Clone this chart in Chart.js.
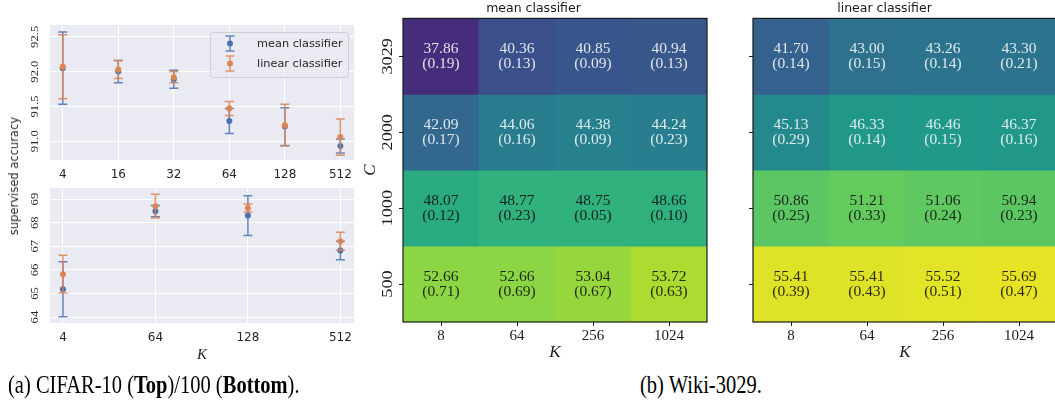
<!DOCTYPE html>
<html>
<head>
<meta charset="utf-8">
<script src="https://cdn.jsdelivr.net/npm/chart.js@4.4.1/dist/chart.umd.min.js"></script>
<style>
  body { margin: 0; width: 1055px; height: 402px; overflow: hidden; background: #fff; position: relative; }
  canvas { position: absolute; }
  #ylab { position: absolute; left: 7px; top: 117px; writing-mode: vertical-rl; transform: rotate(180deg);
          font: 11.5px "DejaVu Sans", sans-serif; color: #262626; white-space: nowrap; line-height: 14px; }
  .cap { position: absolute; top: 372px; font-family: "Liberation Serif", serif; font-size: 20.5px; color: #000;
         white-space: nowrap; transform: scaleY(1.18); transform-origin: left top; }
</style>
</head>
<body>
<canvas id="top" width="360" height="185" style="left:0;top:0"></canvas>
<canvas id="bottom" width="360" height="190" style="left:0;top:180px"></canvas>
<canvas id="heatMean" width="355" height="365" style="left:360px;top:0"></canvas>
<canvas id="heatLinear" width="350" height="365" style="left:712px;top:0"></canvas>
<div id="ylab">supervised accuracy</div>
<div class="cap" style="left:8px">(a) CIFAR-10 (<b>Top</b>)/100 (<b>Bottom</b>).</div>
<div class="cap" style="left:640px">(b) Wiki-3029.</div>

<script>
// CIFAR-10 (top)
const kTop = ['4', '16', '32', '64', '128', '512'];
const meanTop = [92.05, 92.00, 91.89, 91.29, 91.21, 90.93];
const meanTopStd = [0.52, 0.16, 0.13, 0.18, 0.27, 0.10];
const linearTop = [92.07, 92.03, 91.92, 91.47, 91.23, 91.06];
const linearTopStd = [0.46, 0.13, 0.08, 0.10, 0.30, 0.26];
const yTicksTop = [91.0, 91.5, 92.0, 92.5];

// CIFAR-100 (bottom)
const kBottom = ['4', '64', '128', '512'];
const meanBottom = [65.18, 68.49, 68.30, 66.82];
const meanBottomStd = [1.16, 0.24, 0.84, 0.39];
const linearBottom = [65.82, 68.70, 68.62, 67.21];
const linearBottomStd = [0.80, 0.50, 0.17, 0.38];
const yTicksBottom = [64, 65, 66, 67, 68, 69];

// Wiki-3029 heatmaps, rows follow heatC
const heatK = ['8', '64', '256', '1024'];
const heatC = ['3029', '2000', '1000', '500'];
const meanAcc = [[37.86, 40.36, 40.85, 40.94], [42.09, 44.06, 44.38, 44.24], [48.07, 48.77, 48.75, 48.66], [52.66, 52.66, 53.04, 53.72]];
const meanSd = [[0.19, 0.13, 0.09, 0.13], [0.17, 0.16, 0.09, 0.23], [0.12, 0.23, 0.05, 0.10], [0.71, 0.69, 0.67, 0.63]];
const linAcc = [[41.70, 43.00, 43.26, 43.30], [45.13, 46.33, 46.46, 46.37], [50.86, 51.21, 51.06, 50.94], [55.41, 55.41, 55.52, 55.69]];
const linSd = [[0.14, 0.15, 0.14, 0.21], [0.29, 0.14, 0.15, 0.16], [0.25, 0.33, 0.24, 0.23], [0.39, 0.43, 0.51, 0.47]];

const BLUE = '#4c72b0', ORANGE = '#dd8452';
const VMIN = 35.1, VMAX = 56.4;
const VIRIDIS = ['#440154', '#482878', '#3e4989', '#31688e', '#26828e', '#1f9e89', '#35b779', '#6ece58', '#b5de2b', '#fde725'];

function norm(v) { return Math.min(1, Math.max(0, (v - VMIN) / (VMAX - VMIN))); }

function viridis(t) {
  const f = t * (VIRIDIS.length - 1);
  const i = Math.min(VIRIDIS.length - 2, Math.floor(f));
  const u = f - i;
  const a = VIRIDIS[i], b = VIRIDIS[i + 1];
  const ch = k => {
    const x = parseInt(a.substr(1 + 2 * k, 2), 16), y = parseInt(b.substr(1 + 2 * k, 2), 16);
    return Math.round(x + (y - x) * u);
  };
  return `rgb(${ch(0)},${ch(1)},${ch(2)})`;
}

// rotated y tick labels (matplotlib style, reading upward)
const rotatedYTicks = {
  id: 'rotatedYTicks',
  afterDraw(chart, args, o) {
    if (!o.show) return;
    const ys = chart.scales.y, ctx = chart.ctx;
    ctx.save();
    ctx.font = o.font;
    ctx.fillStyle = o.color;
    ctx.textAlign = 'center';
    ctx.textBaseline = 'middle';
    ys.ticks.forEach((t, i) => {
      ctx.save();
      ctx.translate(o.x, ys.getPixelForValue(t.value));
      ctx.rotate(-Math.PI / 2);
      ctx.scale(o.stretch || 1, 1);
      ctx.fillText(o.labels[i], 0, 0);
      ctx.restore();
    });
    ctx.restore();
  }
};

const plotBg = {
  id: 'plotBg',
  beforeDraw(chart, args, o) {
    if (!o.color) return;
    const a = chart.chartArea, ctx = chart.ctx;
    ctx.save();
    ctx.fillStyle = o.color;
    ctx.fillRect(a.left, a.top, a.right - a.left, a.bottom - a.top);
    ctx.restore();
  }
};

const errorBars = {
  id: 'errorBars',
  beforeDatasetDraw(chart, args) {
    const ds = chart.data.datasets[args.index];
    if (!ds.sd) return;
    const xs = chart.scales.x, ys = chart.scales.y, ctx = chart.ctx;
    ctx.save();
    ctx.strokeStyle = ds.borderColor;
    ctx.globalAlpha = 0.85;
    ctx.lineWidth = 1.5;
    ds.data.forEach((p, i) => {
      const px = xs.getPixelForValue(p.x);
      const top = ys.getPixelForValue(p.y + ds.sd[i]);
      const bot = ys.getPixelForValue(p.y - ds.sd[i]);
      ctx.beginPath();
      ctx.moveTo(px, top); ctx.lineTo(px, bot);
      ctx.moveTo(px - 4.5, top); ctx.lineTo(px + 4.5, top);
      ctx.moveTo(px - 4.5, bot); ctx.lineTo(px + 4.5, bot);
      ctx.stroke();
    });
    ctx.restore();
  }
};

const boxLegend = {
  id: 'boxLegend',
  afterDraw(chart, args, o) {
    if (!o.items) return;
    const ctx = chart.ctx;
    ctx.save();
    ctx.fillStyle = 'rgba(234,234,242,0.8)';
    ctx.strokeStyle = '#cfcfd6';
    ctx.lineWidth = 1;
    ctx.beginPath();
    ctx.roundRect(210.5, 32.5, 138, 45, 3);
    ctx.fill();
    ctx.stroke();
    o.items.forEach((it, i) => {
      const cy = 43.5 + i * 20, gx = 230;
      ctx.strokeStyle = it.color;
      ctx.globalAlpha = 0.85;
      ctx.lineWidth = 1.5;
      ctx.beginPath();
      ctx.moveTo(gx, cy - 7.5); ctx.lineTo(gx, cy + 7.5);
      ctx.moveTo(gx - 4.5, cy - 7.5); ctx.lineTo(gx + 4.5, cy - 7.5);
      ctx.moveTo(gx - 4.5, cy + 7.5); ctx.lineTo(gx + 4.5, cy + 7.5);
      ctx.stroke();
      ctx.globalAlpha = 1;
      ctx.fillStyle = it.color;
      ctx.beginPath();
      ctx.arc(gx, cy, 3, 0, Math.PI * 2);
      ctx.fill();
      ctx.fillStyle = '#262626';
      ctx.font = '11.3px "DejaVu Sans"';
      ctx.textBaseline = 'middle';
      ctx.fillText(it.text, 257, cy + 1);
    });
    ctx.restore();
  }
};

function errorChart(id, cats, ticks, fmt, range, series, pad, xTitle, legend) {
  const datasets = series.map(s => ({
    label: s.label,
    data: s.mean.map((v, i) => ({ x: i, y: v })),
    sd: s.sd,
    backgroundColor: s.color,
    borderColor: s.color,
    pointRadius: 3,
    pointBorderWidth: 0,
    showLine: false
  }));
  return new Chart(document.getElementById(id), {
    type: 'scatter',
    data: { datasets },
    options: {
      animation: false,
      responsive: false,
      layout: { padding: pad },
      plugins: {
        legend: { display: false },
        tooltip: { enabled: false },
        plotBg: { color: '#eaeaf2' },
        rotatedYTicks: { show: true, x: 35, labels: ticks.map(fmt), font: '11px "Liberation Serif"', color: '#262626', stretch: 1.15 },
        boxLegend: legend
      },
      scales: {
        x: {
          type: 'linear',
          min: range[0], max: range[1],
          afterBuildTicks: ax => { ax.ticks = cats.map((_, i) => ({ value: i })); },
          afterFit: ax => { ax.height = pad.xh; },
          ticks: { callback: v => cats[v], padding: 8, color: '#262626', font: { family: 'DejaVu Sans', size: 12 } },
          grid: { color: '#ffffff', lineWidth: 1, drawTicks: false },
          border: { display: false },
          title: xTitle
        },
        y: {
          min: range[2], max: range[3],
          afterBuildTicks: ax => { ax.ticks = ticks.map(v => ({ value: v })); },
          afterFit: ax => { ax.width = 50; },
          ticks: { display: false },
          grid: { color: '#ffffff', lineWidth: 1, drawTicks: false },
          border: { display: false }
        }
      }
    },
    plugins: [plotBg, errorBars, rotatedYTicks, boxLegend]
  });
}

errorChart('top', kTop, yTicksTop, v => v.toFixed(1), [-0.23, 5.25, 90.73, 92.67],
  [
    { label: 'linear classifier', mean: linearTop, sd: linearTopStd, color: ORANGE },
    { label: 'mean classifier', mean: meanTop, sd: meanTopStd, color: BLUE }
  ],
  { top: 25, right: 4, left: 0, bottom: 0, xh: 25 },
  { display: false },
  { items: [{ text: 'mean classifier', color: BLUE }, { text: 'linear classifier', color: ORANGE }] });

errorChart('bottom', kBottom, yTicksBottom, v => String(v), [-0.14, 3.15, 63.75, 69.47],
  [
    { label: 'linear classifier', mean: linearBottom, sd: linearBottomStd, color: ORANGE },
    { label: 'mean classifier', mean: meanBottom, sd: meanBottomStd, color: BLUE }
  ],
  { top: 8, right: 4, left: 0, bottom: 0, xh: 47 },
  { display: true, text: 'K', color: '#262626', font: { family: 'Liberation Serif', style: 'italic', size: 15 }, padding: { top: 0, bottom: 6 } },
  {});

const cellText = {
  id: 'cellText',
  afterDatasetsDraw(chart, args, o) {
    const ctx = chart.ctx;
    ctx.save();
    ctx.font = '15.5px "Liberation Serif"';
    ctx.textAlign = 'center';
    ctx.textBaseline = 'middle';
    chart.data.datasets.forEach((ds, r) => {
      chart.getDatasetMeta(r).data.forEach((bar, j) => {
        const cy = (bar.y + bar.base) / 2;
        ctx.fillStyle = norm(o.acc[r][j]) > 0.57 ? 'rgba(15,15,15,0.88)' : 'rgba(255,255,255,0.85)';
        ctx.fillText(o.acc[r][j].toFixed(2), bar.x, cy - 7.5);
        ctx.fillText('(' + o.sd[r][j].toFixed(2) + ')', bar.x, cy + 7.5);
      });
    });
    const a = chart.chartArea;
    ctx.strokeStyle = '#1a1a1a';
    ctx.lineWidth = 1.2;
    ctx.strokeRect(a.left, a.top, a.right - a.left, a.bottom - a.top);
    ctx.restore();
  }
};

function heatmap(id, title, acc, sd, yw, showY, pad) {
  const datasets = heatC.map((c, r) => ({
    label: c,
    data: heatK.map(() => [heatC.length - 1 - r, heatC.length - r]),
    backgroundColor: acc[r].map(v => viridis(norm(v))),
    grouped: false,
    barPercentage: 1,
    categoryPercentage: 1,
    borderWidth: 0
  }));
  return new Chart(document.getElementById(id), {
    type: 'bar',
    data: { labels: heatK, datasets },
    options: {
      animation: false,
      responsive: false,
      layout: { padding: pad },
      plugins: {
        legend: { display: false },
        tooltip: { enabled: false },
        title: { display: true, text: title, color: '#1a1a1a', font: { family: 'DejaVu Sans', size: 12.5, weight: 'normal' }, padding: { top: 1, bottom: 2.4 } },
        cellText: { acc, sd },
        rotatedYTicks: { show: showY, x: 28, labels: heatC, font: '14px "Liberation Serif"', color: '#1a1a1a', stretch: 1.3 }
      },
      scales: {
        x: {
          offset: true,
          afterFit: ax => { ax.height = 43; },
          ticks: { padding: 1, color: '#1a1a1a', font: { family: 'Liberation Serif', size: 15 } },
          grid: { display: true, drawOnChartArea: false, drawTicks: true, tickLength: 4, color: '#1a1a1a', offset: false },
          border: { display: false },
          title: { display: true, text: 'K', color: '#1a1a1a', font: { family: 'Liberation Serif', style: 'italic', size: 17 }, padding: { top: 0, bottom: 2 } }
        },
        y: {
          min: 0, max: heatC.length,
          afterBuildTicks: ax => { ax.ticks = heatC.map((_, r) => ({ value: heatC.length - 0.5 - r })); },
          afterFit: ax => { ax.width = yw; },
          ticks: { display: false },
          grid: { display: true, drawOnChartArea: false, drawTicks: true, tickLength: 4, color: '#1a1a1a' },
          border: { display: false },
          title: { display: showY, text: 'C', color: '#1a1a1a', font: { family: 'Liberation Serif', style: 'italic', size: 17 }, padding: 0 }
        }
      }
    },
    plugins: [cellText, rotatedYTicks]
  });
}

heatmap('heatMean', 'mean classifier', meanAcc, meanSd, 43, true, { top: 0, right: 8, left: 0, bottom: 0 });
heatmap('heatLinear', 'linear classifier', linAcc, linSd, 41, false, { top: 0, right: 5, left: 0, bottom: 0 });
</script>
</body>
</html>
